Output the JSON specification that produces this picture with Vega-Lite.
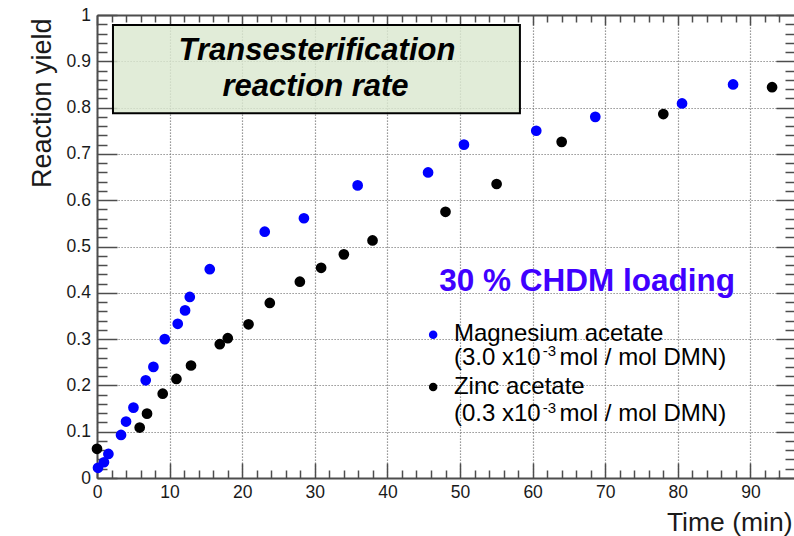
{
  "$schema": "https://vega.github.io/schema/vega-lite/v6.json",
  "width": 697,
  "height": 463,
  "autosize": {"type": "none"},
  "padding": {"left": 97, "top": 15, "right": 0, "bottom": 58},
  "background": "white",
  "config": {
    "view": {"stroke": null},
    "font": "Liberation Sans",
    "axis": {
      "domainColor": "#4d4d4d",
      "domainWidth": 2,
      "tickColor": "#4d4d4d",
      "tickWidth": 1.5,
      "labelFont": "Liberation Sans",
      "labelFontSize": 17.5,
      "labelColor": "#1a1a1a",
      "labelFlush": false,
      "labelOverlap": false,
      "titleFont": "Liberation Sans",
      "titleFontWeight": "normal",
      "titleColor": "#1a1a1a",
      "gridColor": "#7a7a7a",
      "gridDash": [1.2, 1.8],
      "gridWidth": 1.2
    }
  },
  "datasets": {
    "yields": [
      {"catalyst": "Magnesium acetate", "time": 0.14, "yield": 0.022},
      {"catalyst": "Magnesium acetate", "time": 0.96, "yield": 0.034},
      {"catalyst": "Magnesium acetate", "time": 1.57, "yield": 0.052},
      {"catalyst": "Magnesium acetate", "time": 3.31, "yield": 0.093},
      {"catalyst": "Magnesium acetate", "time": 4.0, "yield": 0.122},
      {"catalyst": "Magnesium acetate", "time": 5.02, "yield": 0.152},
      {"catalyst": "Magnesium acetate", "time": 6.71, "yield": 0.211},
      {"catalyst": "Magnesium acetate", "time": 7.77, "yield": 0.24},
      {"catalyst": "Magnesium acetate", "time": 9.33, "yield": 0.3},
      {"catalyst": "Magnesium acetate", "time": 11.12, "yield": 0.333},
      {"catalyst": "Magnesium acetate", "time": 12.13, "yield": 0.362},
      {"catalyst": "Magnesium acetate", "time": 12.78, "yield": 0.391},
      {"catalyst": "Magnesium acetate", "time": 15.53, "yield": 0.451},
      {"catalyst": "Magnesium acetate", "time": 23.1, "yield": 0.532},
      {"catalyst": "Magnesium acetate", "time": 28.5, "yield": 0.561},
      {"catalyst": "Magnesium acetate", "time": 35.9, "yield": 0.632},
      {"catalyst": "Magnesium acetate", "time": 45.6, "yield": 0.66},
      {"catalyst": "Magnesium acetate", "time": 50.54, "yield": 0.72},
      {"catalyst": "Magnesium acetate", "time": 60.5, "yield": 0.75},
      {"catalyst": "Magnesium acetate", "time": 68.63, "yield": 0.78},
      {"catalyst": "Magnesium acetate", "time": 80.58, "yield": 0.809},
      {"catalyst": "Magnesium acetate", "time": 87.61, "yield": 0.85},
      {"catalyst": "Zinc acetate", "time": 0.0, "yield": 0.063},
      {"catalyst": "Zinc acetate", "time": 5.88, "yield": 0.109},
      {"catalyst": "Zinc acetate", "time": 6.89, "yield": 0.139},
      {"catalyst": "Zinc acetate", "time": 9.05, "yield": 0.182},
      {"catalyst": "Zinc acetate", "time": 10.94, "yield": 0.214},
      {"catalyst": "Zinc acetate", "time": 12.95, "yield": 0.243},
      {"catalyst": "Zinc acetate", "time": 16.91, "yield": 0.289},
      {"catalyst": "Zinc acetate", "time": 18.01, "yield": 0.302},
      {"catalyst": "Zinc acetate", "time": 20.87, "yield": 0.332},
      {"catalyst": "Zinc acetate", "time": 23.8, "yield": 0.378},
      {"catalyst": "Zinc acetate", "time": 27.94, "yield": 0.424},
      {"catalyst": "Zinc acetate", "time": 30.87, "yield": 0.454},
      {"catalyst": "Zinc acetate", "time": 34.0, "yield": 0.483},
      {"catalyst": "Zinc acetate", "time": 37.95, "yield": 0.513},
      {"catalyst": "Zinc acetate", "time": 48.0, "yield": 0.575},
      {"catalyst": "Zinc acetate", "time": 55.04, "yield": 0.635},
      {"catalyst": "Zinc acetate", "time": 64.0, "yield": 0.726},
      {"catalyst": "Zinc acetate", "time": 78.0, "yield": 0.786},
      {"catalyst": "Zinc acetate", "time": 92.98, "yield": 0.844}
    ]
  },
  "data": {"name": "yields"},
  "resolve": {"axis": {"x": "independent", "y": "independent"}},
  "layer": [
    {
      "mark": {"type": "circle", "size": 115, "opacity": 1},
      "encoding": {
        "x": {
          "field": "time", "type": "quantitative",
          "scale": {"domain": [0, 96], "nice": false, "zero": false},
          "axis": {
            "orient": "bottom",
            "values": [0, 10, 20, 30, 40, 50, 60, 70, 80, 90],
            "tickSize": -15,
            "labelPadding": 20,
            "grid": true,
            "title": "Time (min)",
            "titleFontSize": 26.5,
            "titleAlign": "right",
            "titleBaseline": "alphabetic",
            "titleAnchor": "end",
            "titleX": 695,
            "titleY": 52
          }
        },
        "y": {
          "field": "yield", "type": "quantitative",
          "scale": {"domain": [0, 1], "nice": false, "zero": false},
          "axis": {
            "orient": "left",
            "values": [0, 0.1, 0.2, 0.3, 0.4, 0.5, 0.6, 0.7, 0.8, 0.9, 1],
            "format": "~g",
            "tickSize": -20,
            "labelPadding": 26.6,
            "labelBaseline": "middle",
            "grid": true,
            "title": "Reaction yield",
            "titleFontSize": 27,
            "titleAngle": -90,
            "titleAlign": "right",
            "titleBaseline": "alphabetic",
            "titleAnchor": "end",
            "titleX": -47,
            "titleY": 3
          }
        },
        "color": {
          "field": "catalyst", "type": "nominal",
          "scale": {"domain": ["Magnesium acetate", "Zinc acetate"], "range": ["#0000ff", "#000000"]},
          "legend": null
        }
      }
    },
    {
      "mark": {"type": "point", "opacity": 0},
      "encoding": {
        "x": {
          "field": "time", "type": "quantitative",
          "axis": {
            "orient": "bottom",
            "values": [2, 4, 6, 8, 12, 14, 16, 18, 22, 24, 26, 28, 32, 34, 36, 38, 42, 44, 46, 48, 52, 54, 56, 58, 62, 64, 66, 68, 72, 74, 76, 78, 82, 84, 86, 88, 92, 94],
            "tickSize": -8, "labels": false, "domain": false, "grid": false, "title": null
          }
        },
        "y": {
          "field": "yield", "type": "quantitative",
          "axis": {
            "orient": "left",
            "values": [0.02, 0.04, 0.06, 0.08, 0.12, 0.14, 0.16, 0.18, 0.22, 0.24, 0.26, 0.28, 0.32, 0.34, 0.36, 0.38, 0.42, 0.44, 0.46, 0.48, 0.52, 0.54, 0.56, 0.58, 0.62, 0.64, 0.66, 0.68, 0.72, 0.74, 0.76, 0.78, 0.82, 0.84, 0.86, 0.88, 0.92, 0.94, 0.96, 0.98],
            "tickSize": -10, "labels": false, "domain": false, "grid": false, "title": null
          }
        }
      }
    },
    {
      "mark": {"type": "point", "opacity": 0},
      "encoding": {
        "x": {
          "field": "time", "type": "quantitative",
          "axis": {
            "orient": "top",
            "values": [0, 10, 20, 30, 40, 50, 60, 70, 80, 90],
            "tickSize": -10, "labels": false, "domain": true, "grid": false, "title": null
          }
        },
        "y": {
          "field": "yield", "type": "quantitative",
          "axis": {
            "orient": "right",
            "values": [0, 0.1, 0.2, 0.3, 0.4, 0.5, 0.6, 0.7, 0.8, 0.9, 1],
            "tickSize": -18, "labels": false, "domain": false, "grid": false, "title": null
          }
        }
      }
    },
    {
      "mark": {"type": "point", "opacity": 0},
      "encoding": {
        "x": {
          "field": "time", "type": "quantitative",
          "axis": {
            "orient": "top",
            "values": [2, 4, 6, 8, 12, 14, 16, 18, 22, 24, 26, 28, 32, 34, 36, 38, 42, 44, 46, 48, 52, 54, 56, 58, 62, 64, 66, 68, 72, 74, 76, 78, 82, 84, 86, 88, 92, 94],
            "tickSize": -7, "labels": false, "domain": false, "grid": false, "title": null
          }
        },
        "y": {
          "field": "yield", "type": "quantitative",
          "axis": {
            "orient": "right",
            "values": [0.02, 0.04, 0.06, 0.08, 0.12, 0.14, 0.16, 0.18, 0.22, 0.24, 0.26, 0.28, 0.32, 0.34, 0.36, 0.38, 0.42, 0.44, 0.46, 0.48, 0.52, 0.54, 0.56, 0.58, 0.62, 0.64, 0.66, 0.68, 0.72, 0.74, 0.76, 0.78, 0.82, 0.84, 0.86, 0.88, 0.92, 0.94, 0.96, 0.98],
            "tickSize": -9, "labels": false, "domain": false, "grid": false, "title": null
          }
        }
      }
    },
    {
      "data": {"values": [{}]},
      "mark": {"type": "rect", "fill": "#dbe8cf", "fillOpacity": 0.82, "stroke": "#000000", "strokeWidth": 2},
      "encoding": {
        "x": {"datum": 2.2, "type": "quantitative", "axis": null},
        "x2": {"datum": 58.25},
        "y": {"datum": 0.9784, "type": "quantitative", "axis": null},
        "y2": {"datum": 0.7878}
      }
    },
    {
      "data": {"values": [{}]},
      "mark": {"type": "text", "text": "Transesterification", "font": "Liberation Sans", "fontSize": 31, "fontWeight": "bold", "fontStyle": "italic", "align": "center", "baseline": "alphabetic", "color": "#000000"},
      "encoding": {
        "x": {"datum": 30.3, "type": "quantitative", "axis": null},
        "y": {"datum": 0.9029, "type": "quantitative", "axis": null}
      }
    },
    {
      "data": {"values": [{}]},
      "mark": {"type": "text", "text": "reaction rate", "font": "Liberation Sans", "fontSize": 31, "fontWeight": "bold", "fontStyle": "italic", "align": "center", "baseline": "alphabetic", "color": "#000000"},
      "encoding": {
        "x": {"datum": 30.1, "type": "quantitative", "axis": null},
        "y": {"datum": 0.8259, "type": "quantitative", "axis": null}
      }
    },
    {
      "data": {"values": [{}]},
      "mark": {"type": "text", "text": "30 % CHDM loading", "font": "Liberation Sans", "fontSize": 31.5, "fontWeight": "bold", "align": "center", "baseline": "alphabetic", "color": "#4000ff"},
      "encoding": {
        "x": {"datum": 67.5, "type": "quantitative", "axis": null},
        "y": {"datum": 0.4043, "type": "quantitative", "axis": null}
      }
    },
    {
      "data": {"values": [{}]},
      "mark": {"type": "circle", "size": 72, "opacity": 1, "color": "#0000ff"},
      "encoding": {
        "x": {"datum": 46.3, "type": "quantitative", "axis": null},
        "y": {"datum": 0.3093, "type": "quantitative", "axis": null}
      }
    },
    {
      "data": {"values": [{}]},
      "mark": {"type": "circle", "size": 72, "opacity": 1, "color": "#000000"},
      "encoding": {
        "x": {"datum": 46.3, "type": "quantitative", "axis": null},
        "y": {"datum": 0.1964, "type": "quantitative", "axis": null}
      }
    },
    {
      "data": {"values": [{}]},
      "mark": {"type": "text", "text": "Magnesium acetate", "font": "Liberation Sans", "fontSize": 24, "align": "left", "baseline": "alphabetic", "color": "#000000"},
      "encoding": {
        "x": {"datum": 49.16, "type": "quantitative", "axis": null},
        "y": {"datum": 0.2951, "type": "quantitative", "axis": null}
      }
    },
    {
      "data": {"values": [{}]},
      "mark": {"type": "text", "text": "(3.0 x10", "font": "Liberation Sans", "fontSize": 24, "align": "left", "baseline": "alphabetic", "color": "#000000"},
      "encoding": {
        "x": {"datum": 49.16, "type": "quantitative", "axis": null},
        "y": {"datum": 0.2445, "type": "quantitative", "axis": null}
      }
    },
    {
      "data": {"values": [{}]},
      "mark": {"type": "text", "text": "-3", "font": "Liberation Sans", "fontSize": 15, "align": "left", "baseline": "alphabetic", "color": "#000000"},
      "encoding": {
        "x": {"datum": 61.4, "type": "quantitative", "axis": null},
        "y": {"datum": 0.2625, "type": "quantitative", "axis": null}
      }
    },
    {
      "data": {"values": [{}]},
      "mark": {"type": "text", "text": "mol / mol DMN)", "font": "Liberation Sans", "fontSize": 24, "align": "left", "baseline": "alphabetic", "color": "#000000"},
      "encoding": {
        "x": {"datum": 63.7, "type": "quantitative", "axis": null},
        "y": {"datum": 0.2445, "type": "quantitative", "axis": null}
      }
    },
    {
      "data": {"values": [{}]},
      "mark": {"type": "text", "text": "Zinc acetate", "font": "Liberation Sans", "fontSize": 24, "align": "left", "baseline": "alphabetic", "color": "#000000"},
      "encoding": {
        "x": {"datum": 49.16, "type": "quantitative", "axis": null},
        "y": {"datum": 0.182, "type": "quantitative", "axis": null}
      }
    },
    {
      "data": {"values": [{}]},
      "mark": {"type": "text", "text": "(0.3 x10", "font": "Liberation Sans", "fontSize": 24, "align": "left", "baseline": "alphabetic", "color": "#000000"},
      "encoding": {
        "x": {"datum": 49.16, "type": "quantitative", "axis": null},
        "y": {"datum": 0.1222, "type": "quantitative", "axis": null}
      }
    },
    {
      "data": {"values": [{}]},
      "mark": {"type": "text", "text": "-3", "font": "Liberation Sans", "fontSize": 15, "align": "left", "baseline": "alphabetic", "color": "#000000"},
      "encoding": {
        "x": {"datum": 61.4, "type": "quantitative", "axis": null},
        "y": {"datum": 0.1403, "type": "quantitative", "axis": null}
      }
    },
    {
      "data": {"values": [{}]},
      "mark": {"type": "text", "text": "mol / mol DMN)", "font": "Liberation Sans", "fontSize": 24, "align": "left", "baseline": "alphabetic", "color": "#000000"},
      "encoding": {
        "x": {"datum": 63.7, "type": "quantitative", "axis": null},
        "y": {"datum": 0.1222, "type": "quantitative", "axis": null}
      }
    }
  ]
}
